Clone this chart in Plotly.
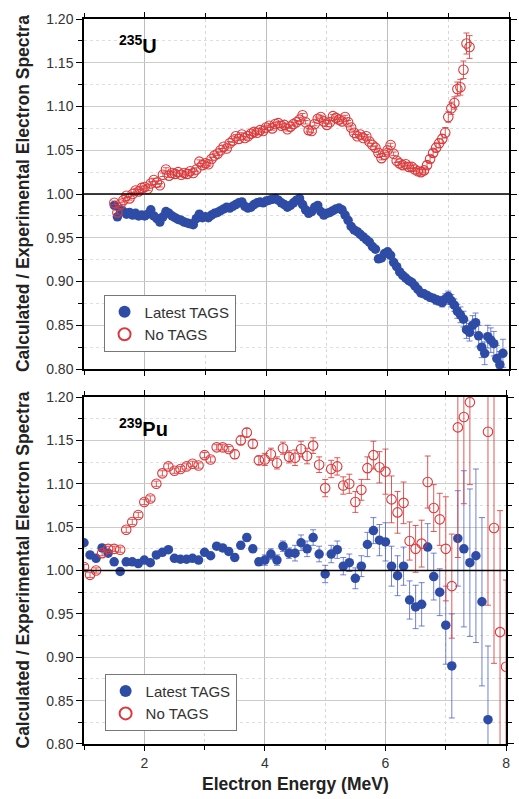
import plotly.graph_objects as go

# ---------------- 235U panel (top) ----------------
E_u = [1.50, 1.55, 1.60, 1.65, 1.70, 1.75, 1.80, 1.85, 1.90, 1.95,
       2.00, 2.05, 2.10, 2.15, 2.20, 2.25, 2.30, 2.35, 2.40, 2.45,
       2.50, 2.55, 2.60, 2.65, 2.70, 2.75, 2.80, 2.85, 2.90, 2.95,
       3.00, 3.05, 3.10, 3.15, 3.20, 3.25, 3.30, 3.35, 3.40, 3.45,
       3.50, 3.55, 3.60, 3.65, 3.70, 3.75, 3.80, 3.85, 3.90, 3.95,
       4.00, 4.05, 4.10, 4.15, 4.20, 4.25, 4.30, 4.35, 4.40, 4.45,
       4.50, 4.55, 4.60, 4.65, 4.70, 4.75, 4.80, 4.85, 4.90, 4.95,
       5.00, 5.05, 5.10, 5.15, 5.20, 5.25, 5.30, 5.35, 5.40, 5.45,
       5.50, 5.55, 5.60, 5.65, 5.70, 5.75, 5.80, 5.85, 5.90, 5.95,
       6.00, 6.05, 6.10, 6.15, 6.20, 6.25, 6.30, 6.35, 6.40, 6.45,
       6.50, 6.55, 6.60, 6.65, 6.70, 6.75, 6.80, 6.85, 6.90, 6.95,
       7.00, 7.05, 7.10, 7.15, 7.20, 7.25, 7.30, 7.35, 7.40, 7.45,
       7.50, 7.55, 7.60, 7.65, 7.70, 7.75, 7.80, 7.85, 7.90]

u_tags = [0.987, 0.974, 0.982, 0.980, 0.977, 0.979, 0.976, 0.978, 0.975, 0.976,
          0.975, 0.977, 0.982, 0.975, 0.972, 0.968, 0.974, 0.980, 0.978, 0.975,
          0.973, 0.971, 0.970, 0.968, 0.967, 0.966, 0.965, 0.972, 0.977, 0.973,
          0.974, 0.973, 0.976, 0.978, 0.979, 0.981, 0.983, 0.985, 0.984, 0.986,
          0.988, 0.990, 0.991, 0.986, 0.984, 0.985, 0.988, 0.990, 0.991, 0.990,
          0.992, 0.993, 0.994, 0.995, 0.993, 0.990, 0.988, 0.985, 0.987, 0.990,
          0.993, 0.995, 0.988, 0.982, 0.978, 0.980, 0.985, 0.987, 0.980, 0.976,
          0.978, 0.979, 0.981, 0.983, 0.984, 0.982, 0.976, 0.970, 0.963, 0.959,
          0.957, 0.954, 0.951, 0.948, 0.945, 0.940, 0.937, 0.926, 0.927, 0.932,
          0.934, 0.930, 0.922, 0.917, 0.911, 0.907, 0.904, 0.901, 0.899, 0.895,
          0.891, 0.887, 0.886, 0.884, 0.882, 0.881, 0.879, 0.878, 0.876, 0.880,
          0.883, 0.878, 0.873, 0.866, 0.862, 0.857, 0.845, 0.842, 0.850, 0.853,
          0.838, 0.825, 0.818, 0.837, 0.833, 0.829, 0.812, 0.805, 0.818]

u_tags_err = [0.002, 0.002, 0.002, 0.002, 0.002, 0.002, 0.002, 0.002, 0.002, 0.002,
              0.002, 0.002, 0.002, 0.002, 0.002, 0.002, 0.002, 0.002, 0.002, 0.002,
              0.002, 0.002, 0.002, 0.002, 0.002, 0.002, 0.002, 0.002, 0.002, 0.002,
              0.002, 0.002, 0.002, 0.002, 0.002, 0.002, 0.002, 0.002, 0.002, 0.002,
              0.002, 0.002, 0.002, 0.002, 0.002, 0.002, 0.002, 0.002, 0.002, 0.002,
              0.002, 0.002, 0.002, 0.002, 0.002, 0.002, 0.002, 0.002, 0.002, 0.002,
              0.002, 0.002, 0.002, 0.002, 0.002, 0.002, 0.002, 0.002, 0.002, 0.002,
              0.002, 0.002, 0.002, 0.002, 0.002, 0.002, 0.002, 0.002, 0.002, 0.002,
              0.002, 0.002, 0.002, 0.002, 0.002, 0.002, 0.002, 0.002, 0.002, 0.002,
              0.002, 0.002, 0.002, 0.002, 0.002, 0.002, 0.002, 0.002, 0.002, 0.002,
              0.003, 0.003, 0.003, 0.004, 0.004, 0.004, 0.005, 0.005, 0.005, 0.006,
              0.006, 0.007, 0.007, 0.008, 0.009, 0.009, 0.010, 0.010, 0.011, 0.011,
              0.012, 0.012, 0.013, 0.013, 0.014, 0.014, 0.015, 0.015, 0.016]

u_notags = [0.990, 0.979, 0.988, 0.993, 0.998, 0.995, 1.000, 1.004, 1.003, 1.007,
            1.008, 1.006, 1.012, 1.016, 1.013, 1.010, 1.022, 1.028, 1.021, 1.024,
            1.023, 1.025, 1.022, 1.024, 1.023, 1.026, 1.024, 1.028, 1.037, 1.033,
            1.035, 1.034, 1.040, 1.044, 1.046, 1.050, 1.054, 1.052, 1.058, 1.061,
            1.066, 1.063, 1.068, 1.064, 1.066, 1.069, 1.071, 1.070, 1.073, 1.072,
            1.076, 1.078, 1.075, 1.080, 1.081, 1.078, 1.079, 1.074, 1.077, 1.080,
            1.082, 1.085, 1.090, 1.082, 1.073, 1.072, 1.080, 1.086, 1.088, 1.083,
            1.079, 1.082, 1.089, 1.087, 1.085, 1.083, 1.088, 1.082, 1.076, 1.070,
            1.066, 1.068, 1.064, 1.066, 1.060, 1.056, 1.053, 1.047, 1.041, 1.045,
            1.050, 1.056, 1.046, 1.038, 1.035, 1.033, 1.034, 1.031, 1.031, 1.028,
            1.026, 1.025, 1.027, 1.033, 1.040, 1.047, 1.053, 1.058, 1.063, 1.070,
            1.088, 1.098, 1.104, 1.120, 1.122, 1.142, 1.172, 1.168]

u_notags_err = [0.002, 0.002, 0.002, 0.002, 0.002, 0.002, 0.002, 0.002, 0.002, 0.002,
                0.002, 0.002, 0.002, 0.002, 0.002, 0.002, 0.002, 0.002, 0.002, 0.002,
                0.002, 0.002, 0.002, 0.002, 0.002, 0.002, 0.002, 0.002, 0.002, 0.002,
                0.002, 0.002, 0.002, 0.002, 0.002, 0.002, 0.002, 0.002, 0.002, 0.002,
                0.002, 0.002, 0.002, 0.002, 0.002, 0.002, 0.002, 0.002, 0.002, 0.002,
                0.002, 0.002, 0.002, 0.002, 0.002, 0.002, 0.002, 0.002, 0.002, 0.002,
                0.002, 0.002, 0.002, 0.002, 0.002, 0.002, 0.002, 0.002, 0.002, 0.002,
                0.002, 0.002, 0.002, 0.002, 0.002, 0.002, 0.002, 0.002, 0.002, 0.002,
                0.002, 0.002, 0.002, 0.002, 0.002, 0.002, 0.002, 0.002, 0.002, 0.002,
                0.002, 0.002, 0.002, 0.002, 0.002, 0.002, 0.002, 0.002, 0.002, 0.002,
                0.003, 0.003, 0.003, 0.004, 0.004, 0.004, 0.005, 0.005, 0.005, 0.006,
                0.006, 0.007, 0.007, 0.008, 0.009, 0.010, 0.012, 0.013]

# ---------------- 239Pu panel (bottom) ----------------
E_pu_tags = [1.0, 1.1, 1.2, 1.3, 1.4, 1.5, 1.6, 1.7, 1.8, 1.9,
             2.0, 2.1, 2.2, 2.3, 2.4, 2.5, 2.6, 2.7, 2.8, 2.9,
             3.0, 3.1, 3.2, 3.3, 3.4, 3.5, 3.6, 3.7, 3.8, 3.9,
             4.0, 4.1, 4.2, 4.3, 4.4, 4.5, 4.6, 4.7, 4.8, 4.9,
             5.0, 5.1, 5.2, 5.3, 5.4, 5.5, 5.6, 5.7, 5.8, 5.9,
             6.0, 6.1, 6.2, 6.3, 6.4, 6.5, 6.6, 6.7, 6.8, 6.9,
             7.0, 7.1, 7.2, 7.3, 7.4, 7.5, 7.6, 7.7]

pu_tags = [1.032, 1.018, 1.014, 1.026, 1.020, 1.010, 0.999, 1.010, 1.010, 1.008,
           1.012, 1.009, 1.018, 1.021, 1.024, 1.014, 1.013, 1.013, 1.014, 1.012,
           1.021, 1.017, 1.028, 1.026, 1.022, 1.015, 1.029, 1.038, 1.025, 1.010,
           1.012, 1.019, 1.012, 1.028, 1.020, 1.020, 1.032, 1.025, 1.038, 1.019,
           0.996, 1.019, 1.024, 1.005, 1.009, 0.991, 1.005, 1.030, 1.046, 1.035,
           1.033, 1.005, 0.994, 1.005, 0.966, 0.958, 0.961, 1.027, 0.993, 0.975,
           0.937, 0.890, 1.037, 1.025, 1.009, 1.017, 0.964, 0.828]

pu_tags_err = [0.003, 0.003, 0.003, 0.003, 0.003, 0.003, 0.003, 0.003, 0.003, 0.003,
               0.003, 0.003, 0.003, 0.003, 0.003, 0.003, 0.003, 0.003, 0.003, 0.003,
               0.003, 0.003, 0.003, 0.003, 0.003, 0.004, 0.004, 0.004, 0.004, 0.004,
               0.006, 0.006, 0.006, 0.006, 0.006, 0.009, 0.009, 0.009, 0.009, 0.009,
               0.010, 0.010, 0.010, 0.010, 0.010, 0.012, 0.012, 0.014, 0.015, 0.018,
               0.022, 0.023, 0.023, 0.022, 0.022, 0.025, 0.025, 0.027, 0.027, 0.027,
               0.045, 0.060, 0.055, 0.090, 0.085, 0.100, 0.097, 0.085]

E_pu_notags = [1.0, 1.1, 1.2, 1.3, 1.4, 1.5, 1.6, 1.7, 1.8, 1.9,
               2.0, 2.1, 2.2, 2.3, 2.4, 2.5, 2.6, 2.7, 2.8, 2.9,
               3.0, 3.1, 3.2, 3.3, 3.4, 3.5, 3.6, 3.7, 3.8, 3.9,
               4.0, 4.1, 4.2, 4.3, 4.4, 4.5, 4.6, 4.7, 4.8, 4.9,
               5.0, 5.1, 5.2, 5.3, 5.4, 5.5, 5.6, 5.7, 5.8, 5.9,
               6.0, 6.1, 6.2, 6.3, 6.4, 6.5, 6.6, 6.7, 6.8, 6.9,
               7.0, 7.1, 7.2, 7.3, 7.4, 7.7, 7.8, 7.9, 8.0]

pu_notags = [1.004, 0.995, 1.000, 1.020, 1.025, 1.025, 1.024, 1.047, 1.056, 1.064,
             1.079, 1.083, 1.100, 1.112, 1.120, 1.115, 1.117, 1.120, 1.123, 1.121,
             1.133, 1.128, 1.142, 1.142, 1.140, 1.134, 1.150, 1.159, 1.146, 1.127,
             1.128, 1.134, 1.124, 1.141, 1.131, 1.130, 1.140, 1.132, 1.144, 1.122,
             1.095, 1.117, 1.120, 1.098, 1.100, 1.079, 1.093, 1.118, 1.133, 1.119,
             1.114, 1.082, 1.067, 1.078, 1.034, 1.025, 1.031, 1.102, 1.072, 1.059,
             1.025, 0.982, 1.165, 1.177, 1.194, 1.160, 1.049, 0.929, 0.889]

pu_notags_err = [0.003, 0.003, 0.003, 0.003, 0.003, 0.003, 0.003, 0.003, 0.003, 0.003,
                 0.003, 0.003, 0.003, 0.003, 0.003, 0.003, 0.003, 0.003, 0.003, 0.003,
                 0.003, 0.003, 0.003, 0.003, 0.003, 0.005, 0.005, 0.005, 0.005, 0.005,
                 0.007, 0.007, 0.007, 0.007, 0.007, 0.009, 0.009, 0.009, 0.009, 0.009,
                 0.010, 0.010, 0.010, 0.010, 0.011, 0.012, 0.012, 0.013, 0.016, 0.018,
                 0.026, 0.027, 0.024, 0.024, 0.022, 0.027, 0.027, 0.030, 0.027, 0.030,
                 0.060, 0.060, 0.150, 0.100, 0.095, 0.200, 0.156, 0.140, 0.100]

legend_labels = ["Latest TAGS", "No TAGS"]
panel_labels = ["<b><sup>235</sup>U</b>", "<b><sup>239</sup>Pu</b>"]
x_ticks = [2, 4, 6, 8]

BLUE = "#2E4CA6"
BLUE_ERR = "rgba(70,90,200,0.75)"
RED = "#DA3A3C"
RED_ERR = "rgba(220,60,60,0.85)"
FONT = "Liberation Sans, Arial, sans-serif"

fig = go.Figure()


def add_panel(xref, yref, legend, E1, v1, e1, E2, v2, e2):
    fig.add_trace(go.Scatter(
        x=E1, y=v1, mode="markers", name=legend_labels[0],
        xaxis=xref, yaxis=yref, legend=legend, cliponaxis=True,
        marker=dict(symbol="circle", size=9.5, color=BLUE, line=dict(width=0)),
        error_y=dict(type="data", array=e1, visible=True, color=BLUE_ERR,
                     thickness=1, width=3)))
    fig.add_trace(go.Scatter(
        x=E2, y=v2, mode="markers", name=legend_labels[1],
        xaxis=xref, yaxis=yref, legend=legend, cliponaxis=True,
        marker=dict(symbol="circle-open", size=9.5, color=RED, line=dict(width=1.1)),
        error_y=dict(type="data", array=e2, visible=True, color=RED_ERR,
                     thickness=1, width=3)))


add_panel("x", "y", "legend", E_u, u_tags, u_tags_err,
          E_u[:len(u_notags)], u_notags, u_notags_err)
add_panel("x2", "y2", "legend2", E_pu_tags, pu_tags, pu_tags_err,
          E_pu_notags, pu_notags, pu_notags_err)

common_x = dict(
    range=[1, 8], tickmode="array", tickvals=x_ticks,
    ticks="outside", ticklen=5, tickwidth=1, tickcolor="#000",
    showline=True, linecolor="#000", linewidth=1.5, mirror="allticks",
    showgrid=True, gridcolor="#bdbdbd", gridwidth=1,
    minor=dict(dtick=1, tick0=0, ticks="outside", ticklen=4, tickcolor="#000",
               showgrid=True, gridcolor="#d6d6d6", griddash="dot", gridwidth=1),
    tickfont=dict(family=FONT, size=14, color="#333"),
    zeroline=False,
)
common_y = dict(
    range=[0.8, 1.2], dtick=0.05, tick0=0.8, tickformat=".2f",
    ticks="outside", ticklen=6, tickwidth=1, tickcolor="#000",
    showline=True, linecolor="#000", linewidth=1.5, mirror="allticks",
    showgrid=True, gridcolor="#cccccc", gridwidth=1,
    minor=dict(dtick=0.025, tick0=0.8, ticks="outside", ticklen=4, tickcolor="#000",
               showgrid=True, gridcolor="#dedede", griddash="dot", gridwidth=1),
    tickfont=dict(family=FONT, size=14, color="#333"),
    zeroline=False,
)

fig.update_layout(
    width=519, height=799,
    margin=dict(l=84, r=2, t=19, b=55),
    paper_bgcolor="white", plot_bgcolor="white",
    font=dict(family=FONT, color="#222"),
    xaxis=dict(common_x, domain=[0, 1], anchor="y", showticklabels=False),
    yaxis=dict(common_y, domain=[0.5172, 1], anchor="x"),
    xaxis2=dict(common_x, domain=[0, 0.9931], anchor="y2"),
    yaxis2=dict(common_y, domain=[0, 0.4786], anchor="x2"),
    legend=dict(x=0.046, y=0.620, xanchor="left", yanchor="top",
                bgcolor="white", bordercolor="#777", borderwidth=1,
                font=dict(family=FONT, size=15, color="#333"),
                itemsizing="constant", tracegroupgap=0),
    legend2=dict(x=0.0485, y=0.097, xanchor="left", yanchor="top",
                 bgcolor="white", bordercolor="#777", borderwidth=1,
                 font=dict(family=FONT, size=15, color="#333"),
                 itemsizing="constant", tracegroupgap=0),
    showlegend=True,
)

# reference line at ratio = 1
for xr, yr in (("x", "y"), ("x2", "y2")):
    fig.add_shape(type="line", xref=f"{xr} domain", yref=yr,
                  x0=0, x1=1, y0=1.0, y1=1.0, layer="above",
                  line=dict(color="#000", width=1.6))

# panel labels
fig.add_annotation(text=panel_labels[0], xref="paper", yref="paper",
                   x=0.0785, y=0.9655, xanchor="left", yanchor="middle",
                   showarrow=False, font=dict(family=FONT, size=20, color="#000"))
fig.add_annotation(text=panel_labels[1], xref="paper", yref="paper",
                   x=0.0785, y=0.437, xanchor="left", yanchor="middle",
                   showarrow=False, font=dict(family=FONT, size=20, color="#000"))

# y-axis titles
for yr in ("y", "y2"):
    fig.add_annotation(text="<b>Calculated / Experimental Electron Spectra</b>",
                       xref="paper", yref=f"{yr} domain", x=0, y=0.5,
                       xshift=-61, xanchor="center", yanchor="middle",
                       textangle=-90, showarrow=False,
                       font=dict(family=FONT, size=17.5, color="#222"))

# x-axis title
fig.add_annotation(text="<b>Electron Energy (MeV)</b>", xref="paper", yref="paper",
                   x=0.497, y=-0.0552, xanchor="center", yanchor="middle",
                   showarrow=False, font=dict(family=FONT, size=17.5, color="#222"))

fig.write_html("out.html",
               config={"displayModeBar": False},
               post_script="document.body.style.margin='0px';"
                           "document.body.style.overflow='hidden';")
